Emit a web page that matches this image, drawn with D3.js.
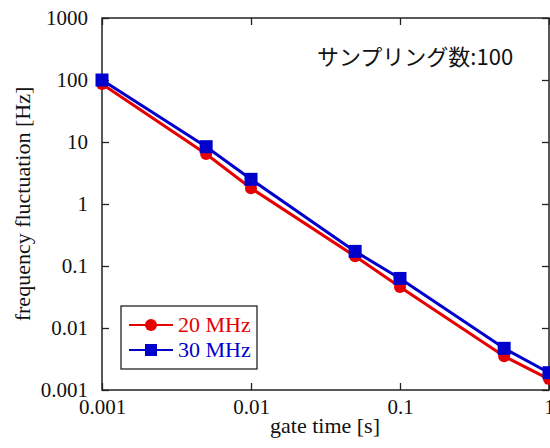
<!DOCTYPE html>
<html>
<head>
<meta charset="utf-8">
<script src="https://cdn.jsdelivr.net/npm/d3@7"></script>
<style>
  body { margin: 0; background: #fff; }
  svg { display: block; }
</style>
</head>
<body>
<div id="chart"></div>
<script>
// gate times [s]
var gateTimes = [0.001, 0.005, 0.01, 0.05, 0.1, 0.5, 1];
// frequency fluctuation [Hz]
var f20 = [86, 6.4, 1.8, 0.143, 0.046, 0.0035, 0.0015];
var f30 = [100, 8.4, 2.5, 0.172, 0.063, 0.0047, 0.0019];
var xTicks = [0.001, 0.01, 0.1, 1];
var yTicks = [0.001, 0.01, 0.1, 1, 10, 100, 1000];
var seriesNames = ['20 MHz', '30 MHz'];
var seriesColors = ['#e60000', '#0000cc'];

var W = 550, H = 448;
var m = {left: 102, top: 18, right: 1, bottom: 58};

var svg = d3.select('#chart').append('svg')
  .attr('width', W).attr('height', H);

var x = d3.scaleLog().domain([0.001, 1]).range([m.left, W - m.right]);
var y = d3.scaleLog().domain([0.001, 1000]).range([H - m.bottom, m.top]);

var serif = '"Liberation Serif", "Times New Roman", serif';
var fmt = function(d){ return String(d); };

// frame
svg.append('rect')
  .attr('x', x(0.001)).attr('y', y(1000))
  .attr('width', x(1) - x(0.001)).attr('height', y(0.001) - y(1000))
  .attr('fill', 'none').attr('stroke', '#222').attr('stroke-width', 1.5);

// axes
var gx = svg.append('g').attr('transform', 'translate(0,' + y(0.001) + ')')
  .call(d3.axisBottom(x).tickValues(xTicks).tickFormat(fmt).tickSizeInner(-7).tickSizeOuter(0).tickPadding(9));
var gxt = svg.append('g').attr('transform', 'translate(0,' + y(1000) + ')')
  .call(d3.axisTop(x).tickValues(xTicks).tickFormat('').tickSizeInner(-7).tickSizeOuter(0));
var gy = svg.append('g').attr('transform', 'translate(' + x(0.001) + ',0)')
  .call(d3.axisLeft(y).tickValues(yTicks).tickFormat(fmt).tickSizeInner(-7).tickSizeOuter(0).tickPadding(14));
var gyr = svg.append('g').attr('transform', 'translate(' + x(1) + ',0)')
  .call(d3.axisRight(y).tickValues(yTicks).tickFormat('').tickSizeInner(-7).tickSizeOuter(0));

[gx, gxt, gy, gyr].forEach(function(g){
  g.select('.domain').remove();
  g.selectAll('line').attr('stroke', '#222').attr('stroke-width', 1.3);
  g.selectAll('text').attr('fill', '#111').style('font-family', serif).style('font-size', '21px');
});

// axis titles
svg.append('text')
  .attr('x', 325).attr('y', 433)
  .attr('text-anchor', 'middle')
  .style('font-family', serif).style('font-size', '22px').attr('fill', '#111')
  .text('gate time [s]');
svg.append('text')
  .attr('transform', 'translate(30,' + ((y(0.001) + y(1000)) / 2) + ') rotate(-90)')
  .attr('text-anchor', 'middle')
  .style('font-family', serif).style('font-size', '22px').attr('fill', '#111')
  .text('frequency fluctuation [Hz]');

// annotation
svg.append('text')
  .attr('x', 317).attr('y', 65)
  .style('font-family', '"Noto Sans CJK JP", sans-serif').style('font-size', '22px')
  .attr('fill', '#111')
  .text('サンプリング数:100');

// series
var line = d3.line().x(function(d){ return x(d[0]); }).y(function(d){ return y(d[1]); });
var series = [f20, f30].map(function(vals){
  return gateTimes.map(function(t, i){ return [t, vals[i]]; });
});

var plot = svg.append('g');
series.forEach(function(pts, k){
  plot.append('path').datum(pts)
    .attr('d', line)
    .attr('fill', 'none')
    .attr('stroke', seriesColors[k])
    .attr('stroke-width', 3);
  if (k == 0) {
    plot.selectAll('circle.s' + k).data(pts).enter().append('circle')
      .attr('cx', function(d){ return x(d[0]); })
      .attr('cy', function(d){ return y(d[1]); })
      .attr('r', 6).attr('fill', seriesColors[k]);
  } else {
    plot.selectAll('rect.s' + k).data(pts).enter().append('rect')
      .attr('x', function(d){ return x(d[0]) - 6.5; })
      .attr('y', function(d){ return y(d[1]) - 6.5; })
      .attr('width', 13).attr('height', 13).attr('fill', seriesColors[k]);
  }
});

// legend
var lg = svg.append('g').attr('transform', 'translate(121,306)');
lg.append('rect').attr('width', 136).attr('height', 63)
  .attr('fill', '#fff').attr('stroke', '#222').attr('stroke-width', 1.3);
seriesNames.forEach(function(name, k){
  var yy = 19 + k * 25;
  lg.append('line').attr('x1', 8).attr('x2', 52).attr('y1', yy).attr('y2', yy)
    .attr('stroke', seriesColors[k]).attr('stroke-width', 2);
  if (k == 0) {
    lg.append('circle').attr('cx', 30).attr('cy', yy).attr('r', 6).attr('fill', seriesColors[k]);
  } else {
    lg.append('rect').attr('x', 24).attr('y', yy - 6).attr('width', 12).attr('height', 12).attr('fill', seriesColors[k]);
  }
  lg.append('text').attr('x', 57).attr('y', yy + 7)
    .style('font-family', serif).style('font-size', '22px')
    .attr('fill', seriesColors[k]).text(name);
});
</script>
</body>
</html>
